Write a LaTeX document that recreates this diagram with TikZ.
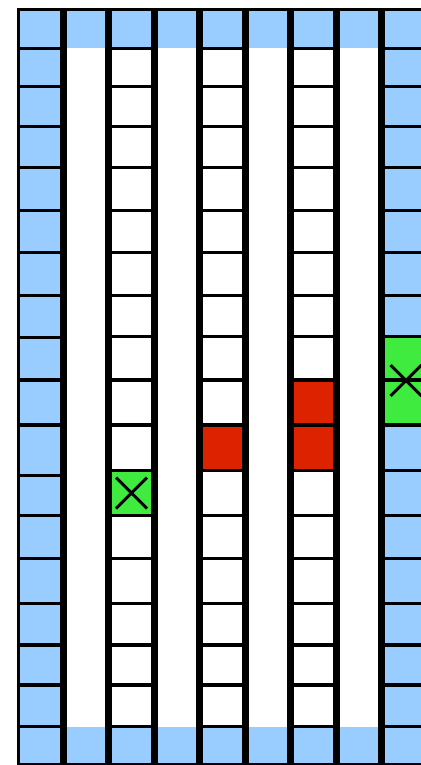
\documentclass[tikz,border=0pt]{standalone}
\definecolor{cellblue}{RGB}{153,204,255}
\definecolor{cellred}{RGB}{221,34,0}
\definecolor{cellgreen}{RGB}{64,235,64}
\begin{document}
\begin{tikzpicture}[x=0.5pt,y=-0.5pt,
  gridline/.style={line width=3.5pt},
  rowline/.style={line width=1.65pt},
  borderline/.style={line width=1.5pt},
  crossline/.style={line width=1.5pt}]
\useasboundingbox (0,0) rectangle (421,765);
\clip (0,0) rectangle (421,765);
\fill[white] (0,0) rectangle (421,765);
% blue outer cells
\fill[cellblue] (18.5,9.5) rectangle (63.4,765);
\fill[cellblue] (381.7,9.5) rectangle (427.1,765);
\fill[cellblue] (18.5,9.5) rectangle (427.1,48.5);
\fill[cellblue] (18.5,726.5) rectangle (427.1,765);
% coloured cells
\fill[cellred] (199.5,425) rectangle (245,470.5);
\fill[cellred] (290.7,380) rectangle (336,470.5);
\fill[cellgreen] (108.7,470.5) rectangle (154.3,515.5);
\fill[cellgreen] (381.7,336.5) rectangle (427.1,425);
% row separators, left column
\foreach \y in {48.5,86.5,126.5,167.5,210.5,252.5,295.5,337.5,380,425,475.5,515.5,558.5,603.5,645,685,726.5}
  \draw[rowline] (18.5,\y) -- (63.4,\y);
% row separators, inner cell columns and right column
\foreach \xa/\xb in {108.7/154.3,199.5/245,290.7/336,381.7/427.1}
  \foreach \y in {48.5,86.5,126.5,167.5,210.5,252.5,295.5,336.5,380,425,470.5,515.5,558.5,603.5,645,685,726.5}
    \draw[rowline] (\xa,\y) -- (\xb,\y);
% vertical column lines
\foreach \x in {63.4,108.7,154.3,199.5,245,290.7,336,381.7}
  \draw[gridline] (\x,9.5) -- (\x,765);
% outer border
\draw[borderline] (18.5,765) -- (18.5,9.5) -- (421,9.5);
\draw[borderline] (18.5,764.3) -- (421,764.3);
% crosses
\coordinate (g1) at (131.5,493);
\coordinate (g2) at (406,380.5);
\draw[crossline] ([shift={(-15.5,-15.5)}]g1) -- ([shift={(15.5,15.5)}]g1)
                 ([shift={(-15.5,15.5)}]g1) -- ([shift={(15.5,-15.5)}]g1);
\draw[crossline] ([shift={(-15.5,-15.5)}]g2) -- ([shift={(15.5,15.5)}]g2)
                 ([shift={(-15.5,15.5)}]g2) -- ([shift={(15.5,-15.5)}]g2);
\end{tikzpicture}
\end{document}
